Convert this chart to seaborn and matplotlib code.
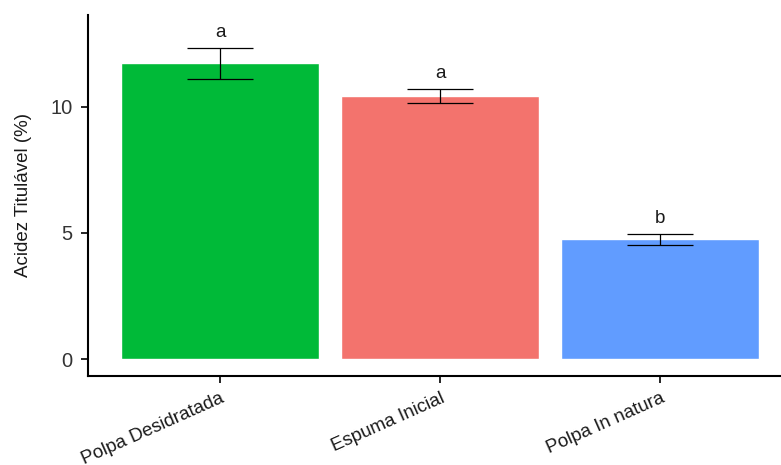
import matplotlib
matplotlib.use("Agg")
import matplotlib.pyplot as plt
import seaborn as sns
import pandas as pd

# values
categories = ["Polpa Desidratada", "Espuma Inicial", "Polpa In natura"]
means = [11.72, 10.42, 4.75]
sds = [0.60, 0.28, 0.21]
letters = ["a", "a", "b"]
colors = ["#00BA38", "#F3736D", "#619CFF"]
yticks = [0, 5, 10]

df = pd.DataFrame({"grupo": categories, "acidez": means, "sd": sds})

sns.set_theme(style="white")
plt.rcParams["font.family"] = ["Liberation Sans", "DejaVu Sans"]

fig = plt.figure(figsize=(7.81, 4.65), dpi=100)
ax = fig.add_axes([88 / 781, 89.3 / 465, 704 / 781, 360.7 / 465])

sns.barplot(data=df, x="grupo", y="acidez", hue="grupo", palette=colors,
            width=0.9, saturation=1, errorbar=None, legend=False, ax=ax)
ax.errorbar(range(len(categories)), df["acidez"], yerr=df["sd"], fmt="none",
            ecolor="black", elinewidth=0.9, capsize=23.8, capthick=0.9)

for i, (m, s, lt) in enumerate(zip(means, sds, letters)):
    ax.annotate(lt, (i, m + s), xytext=(0, 5), textcoords="offset points",
                ha="center", va="bottom", fontsize=13.5, color="#1a1a1a")

ax.set_xlim(-0.6, 2.6)
ax.set_ylim(-0.66, 13.64)
ax.set_yticks(yticks)
ax.set_xlabel("")
ax.set_ylabel("Acidez Titulável (%)", fontsize=13.5, color="#1a1a1a", labelpad=13)

for side in ["top", "right"]:
    ax.spines[side].set_visible(False)
for side in ["left", "bottom"]:
    ax.spines[side].set_linewidth(1.5)
    ax.spines[side].set_color("black")

ax.tick_params(axis="both", which="both", length=5, width=1.2, color="black",
               left=True, bottom=True)
ax.tick_params(axis="y", labelsize=14.5, labelcolor="#333333", pad=6)
ax.tick_params(axis="x", labelsize=13.5, labelcolor="#1a1a1a", pad=5)

for lab in ax.get_xticklabels():
    lab.set_rotation(24)
    lab.set_rotation_mode("anchor")
    lab.set_ha("right")
    lab.set_va("top")

fig.savefig("out.png", dpi=100, facecolor="white")
